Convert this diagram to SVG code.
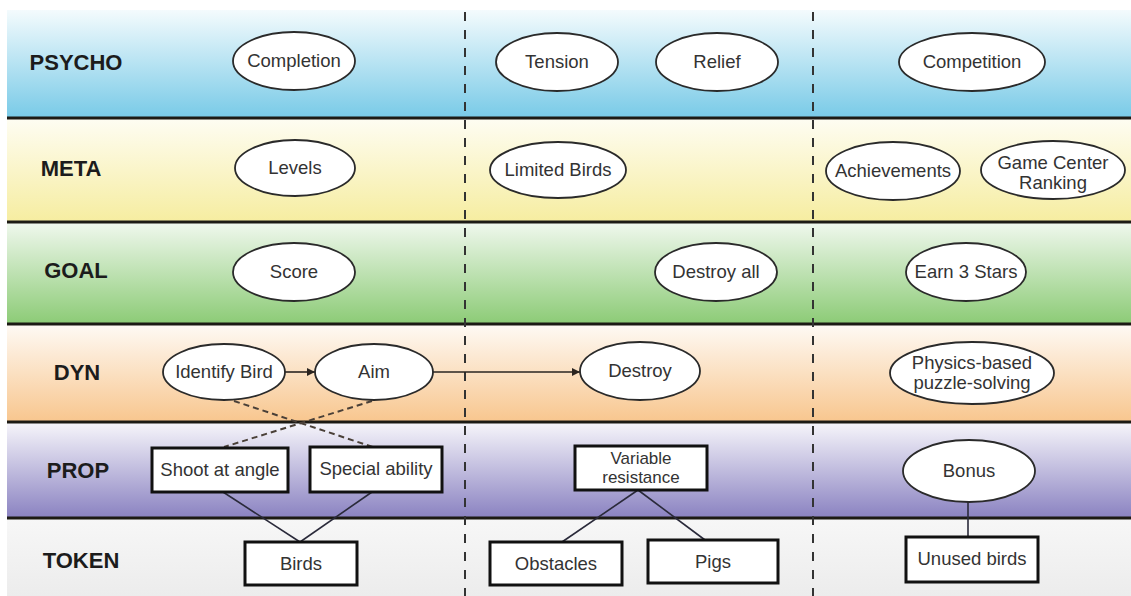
<svg xmlns="http://www.w3.org/2000/svg" width="1131" height="596" viewBox="0 0 1131 596">
<defs>
<linearGradient id="gPsycho" x1="0" y1="0" x2="0" y2="1"><stop offset="0" stop-color="#f4fbfd"/><stop offset="1" stop-color="#78cae7"/></linearGradient>
<linearGradient id="gMeta" x1="0" y1="0" x2="0" y2="1"><stop offset="0" stop-color="#fefdf3"/><stop offset="1" stop-color="#f6eda0"/></linearGradient>
<linearGradient id="gGoal" x1="0" y1="0" x2="0" y2="1"><stop offset="0" stop-color="#f0f8ee"/><stop offset="1" stop-color="#8ccb76"/></linearGradient>
<linearGradient id="gDyn" x1="0" y1="0" x2="0" y2="1"><stop offset="0" stop-color="#fefaf5"/><stop offset="1" stop-color="#f8c68e"/></linearGradient>
<linearGradient id="gProp" x1="0" y1="0" x2="0" y2="1"><stop offset="0" stop-color="#f7f6fb"/><stop offset="1" stop-color="#8a82c1"/></linearGradient>
<linearGradient id="gToken" x1="0" y1="0" x2="0" y2="1"><stop offset="0" stop-color="#f7f7f7"/><stop offset="1" stop-color="#ececec"/></linearGradient>
<marker id="arr" viewBox="0 0 10 10" refX="10" refY="5" markerWidth="8" markerHeight="8" markerUnits="userSpaceOnUse" orient="auto"><path d="M0,0 L10,5 L0,10 z" fill="#2a2420"/></marker>
<style>
.lbl{font-family:"Liberation Sans",Arial,sans-serif;font-weight:bold;font-size:22px;fill:#1c1c1c;text-anchor:middle}
.t{font-family:"Liberation Sans",Arial,sans-serif;font-size:18.5px;fill:#333;text-anchor:middle}
.t2{font-family:"Liberation Sans",Arial,sans-serif;font-size:17px;fill:#333;text-anchor:middle}
.el{fill:#fff;stroke:#2a2a2a;stroke-width:1.8}
.bx{fill:#fff;stroke:#111;stroke-width:3}
.div{stroke:#1c1a14;stroke-width:3}
.vd{stroke:#333;stroke-width:2;stroke-dasharray:9 9;fill:none}
.dash{stroke:#4a4038;stroke-width:2;stroke-dasharray:6 4;fill:none}
.ln{stroke:#2a2a3a;stroke-width:1.6;fill:none}
.ar{stroke:#2a2420;stroke-width:1.6;fill:none;marker-end:url(#arr)}
</style>
</defs>
<rect width="1131" height="596" fill="#fff"/>
<g id="bands">
<rect x="7" y="10" width="1124" height="108" fill="url(#gPsycho)"/>
<rect x="7" y="118" width="1124" height="104" fill="url(#gMeta)"/>
<rect x="7" y="222" width="1124" height="102" fill="url(#gGoal)"/>
<rect x="7" y="324" width="1124" height="98" fill="url(#gDyn)"/>
<rect x="7" y="422" width="1124" height="96" fill="url(#gProp)"/>
<rect x="7" y="518" width="1124" height="78" fill="url(#gToken)"/>
<line class="div" x1="7" y1="118" x2="1131" y2="118"/>
<line class="div" x1="7" y1="222" x2="1131" y2="222"/>
<line class="div" x1="7" y1="324" x2="1131" y2="324"/>
<line class="div" x1="7" y1="422" x2="1131" y2="422"/>
<line class="div" x1="7" y1="518" x2="1131" y2="518"/>
<line class="vd" x1="465" y1="12" x2="465" y2="596"/>
<line class="vd" x1="813" y1="12" x2="813" y2="596"/>
</g>
<g id="labels">
<text class="lbl" x="76" y="70">PSYCHO</text>
<text class="lbl" x="71" y="176">META</text>
<text class="lbl" x="76" y="278">GOAL</text>
<text class="lbl" x="77" y="380">DYN</text>
<text class="lbl" x="78" y="478">PROP</text>
<text class="lbl" x="81" y="568">TOKEN</text>
</g>
<g id="connectors">
<line class="ar" x1="285" y1="372" x2="315" y2="372"/>
<line class="ar" x1="433" y1="372" x2="580" y2="372"/>
<line class="dash" x1="234" y1="401" x2="373" y2="447"/>
<line class="dash" x1="372" y1="401" x2="224" y2="447"/>
<line class="ln" x1="223" y1="492" x2="300" y2="542"/>
<line class="ln" x1="372" y1="492" x2="300" y2="542"/>
<line class="ln" x1="638" y1="490" x2="562" y2="542"/>
<line class="ln" x1="638" y1="490" x2="705" y2="540"/>
<line class="ln" x1="968" y1="502" x2="968" y2="537"/>
</g>
<g id="n-completion"><ellipse class="el" cx="294" cy="61" rx="61" ry="29"/><text class="t" x="294" y="67">Completion</text></g>
<g id="n-tension"><ellipse class="el" cx="557" cy="62" rx="61" ry="29"/><text class="t" x="557" y="68">Tension</text></g>
<g id="n-relief"><ellipse class="el" cx="717" cy="62" rx="61" ry="29"/><text class="t" x="717" y="68">Relief</text></g>
<g id="n-competition"><ellipse class="el" cx="972" cy="62" rx="73" ry="29"/><text class="t" x="972" y="68">Competition</text></g>
<g id="n-levels"><ellipse class="el" cx="295" cy="168" rx="60" ry="28"/><text class="t" x="295" y="174">Levels</text></g>
<g id="n-limited"><ellipse class="el" cx="558" cy="170" rx="68" ry="28"/><text class="t" x="558" y="176">Limited Birds</text></g>
<g id="n-achievements"><ellipse class="el" cx="893" cy="171" rx="67" ry="29"/><text class="t" x="893" y="177">Achievements</text></g>
<g id="n-gamecenter"><ellipse class="el" cx="1053" cy="170" rx="72" ry="29"/><text class="t" x="1053" y="169">Game Center</text><text class="t" x="1053" y="189">Ranking</text></g>
<g id="n-score"><ellipse class="el" cx="294" cy="272" rx="61" ry="29"/><text class="t" x="294" y="278">Score</text></g>
<g id="n-destroyall"><ellipse class="el" cx="716" cy="272" rx="61" ry="29"/><text class="t" x="716" y="278">Destroy all</text></g>
<g id="n-earn"><ellipse class="el" cx="966" cy="272" rx="60" ry="29"/><text class="t" x="966" y="278">Earn 3 Stars</text></g>
<g id="n-identify"><ellipse class="el" cx="224" cy="372" rx="61" ry="28"/><text class="t" x="224" y="378">Identify Bird</text></g>
<g id="n-aim"><ellipse class="el" cx="374" cy="372" rx="59" ry="28"/><text class="t" x="374" y="378">Aim</text></g>
<g id="n-destroy"><ellipse class="el" cx="640" cy="371" rx="60" ry="29"/><text class="t" x="640" y="377">Destroy</text></g>
<g id="n-physics"><ellipse class="el" cx="972" cy="373" rx="82" ry="31"/><text class="t" x="972" y="369">Physics-based</text><text class="t" x="972" y="389">puzzle-solving</text></g>
<g id="n-shoot"><rect class="bx" x="152" y="448" width="136" height="44"/><text class="t" x="220" y="476">Shoot at angle</text></g>
<g id="n-special"><rect class="bx" x="310" y="447" width="132" height="45"/><text class="t" x="376" y="475">Special ability</text></g>
<g id="n-variable"><rect class="bx" x="575" y="446" width="132" height="44"/><text class="t2" x="641" y="464">Variable</text><text class="t2" x="641" y="483">resistance</text></g>
<g id="n-bonus"><ellipse class="el" cx="969" cy="471" rx="66" ry="31"/><text class="t" x="969" y="477">Bonus</text></g>
<g id="n-birds"><rect class="bx" x="245" y="542" width="112" height="43"/><text class="t" x="301" y="570">Birds</text></g>
<g id="n-obstacles"><rect class="bx" x="490" y="542" width="132" height="43"/><text class="t" x="556" y="570">Obstacles</text></g>
<g id="n-pigs"><rect class="bx" x="648" y="540" width="130" height="43"/><text class="t" x="713" y="568">Pigs</text></g>
<g id="n-unused"><rect class="bx" x="906" y="537" width="132" height="45"/><text class="t" x="972" y="565">Unused birds</text></g>
</svg>
